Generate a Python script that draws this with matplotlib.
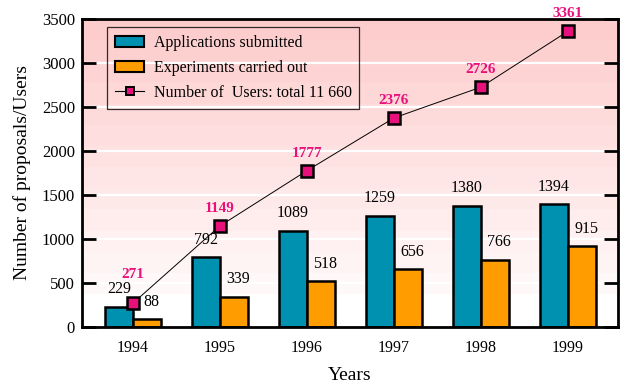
import matplotlib
matplotlib.use("Agg")
import matplotlib.pyplot as plt
import numpy as np
from matplotlib.patches import Patch
from matplotlib.lines import Line2D

years = ["1994", "1995", "1996", "1997", "1998", "1999"]
applications = [229, 792, 1089, 1259, 1380, 1394]
experiments = [88, 339, 518, 656, 766, 915]
users = [271, 1149, 1777, 2376, 2726, 3361]

plt.rcParams['font.family'] = ['Liberation Serif', 'DejaVu Serif']

BLUE = "#0090b0"
ORANGE = "#ff9c00"
PINK = "#e8107a"

fig = plt.figure(figsize=(6.27, 3.86), dpi=100)
ax = fig.add_axes([82/627, 1-327/386, (618-82)/627, (327-19)/386])

x = np.arange(len(years))
w = 0.32
ax.set_xlim(-0.586, 5.575)
ax.set_ylim(0, 3500)

# banded gradient background
nb = 13
edges = np.linspace(3500, 375, nb + 1)
top = np.array([253, 204, 204]) / 255
bot = np.array([255, 248, 248]) / 255
for i in range(nb):
    t = i / (nb - 1)
    c = top * (1 - t) + bot * t
    ax.axhspan(edges[i + 1], edges[i], color=c, lw=0, zorder=0)

for yv in range(500, 3500, 500):
    ax.axhline(yv, color="white", lw=1.6, zorder=0.5)

ax.bar(x - w/2, applications, w, color=BLUE, edgecolor="black", lw=1.8, zorder=2)
ax.bar(x + w/2, experiments, w, color=ORANGE, edgecolor="black", lw=1.8, zorder=2)
ax.plot(x, users, color="black", lw=0.7, marker="s", ms=8, mfc=PINK, mec="black",
        mew=1.8, zorder=3)

for xi, v in zip(x, applications):
    ax.annotate(str(v), (xi - w/2, v), xytext=(0, 7), textcoords="offset points",
                ha="center", va="bottom", fontsize=11.5, zorder=4)
for xi, v in zip(x, experiments):
    ax.annotate(str(v), (xi + w/2, v), xytext=(3, 7), textcoords="offset points",
                ha="center", va="bottom", fontsize=11.5, zorder=4)
for i, (xi, v) in enumerate(zip(x, users)):
    off = 16 if i == 0 else 8
    ax.annotate(str(v), (xi, v), xytext=(0, off), textcoords="offset points",
                ha="center", va="bottom", fontsize=11, fontweight="bold",
                color=PINK, zorder=4)

ax.set_xticks(x)
ax.set_xticklabels(years, fontsize=11.5)
ax.set_yticks(range(0, 3501, 500))
ax.tick_params(axis="y", direction="in", length=10, width=2, labelsize=12,
               right=True, pad=5)
ax.tick_params(axis="x", length=0, pad=9)
for s in ax.spines.values():
    s.set_linewidth(2)

ax.set_xlabel("Years", fontsize=14, labelpad=8)
ax.set_ylabel("Number of proposals/Users", fontsize=14, labelpad=8)

handles = [
    Patch(facecolor=BLUE, edgecolor="black", lw=1.5),
    Patch(facecolor=ORANGE, edgecolor="black", lw=1.5),
    Line2D([], [], color="black", lw=0.8, marker="s", ms=6, mfc=PINK, mec="black", mew=1.4),
]
labels = ["Applications submitted", "Experiments carried out",
          "Number of  Users: total 11 660"]
leg = ax.legend(handles, labels, loc="upper left", bbox_to_anchor=(0.047, 0.974),
                borderaxespad=0, fontsize=11.5, frameon=True, fancybox=False,
                edgecolor="black", handlelength=1.8, handletextpad=0.6,
                borderpad=0.5, labelspacing=0.55)
leg.get_frame().set_facecolor("none")
leg.get_frame().set_linewidth(0.9)

fig.savefig("out.png", dpi=100)
